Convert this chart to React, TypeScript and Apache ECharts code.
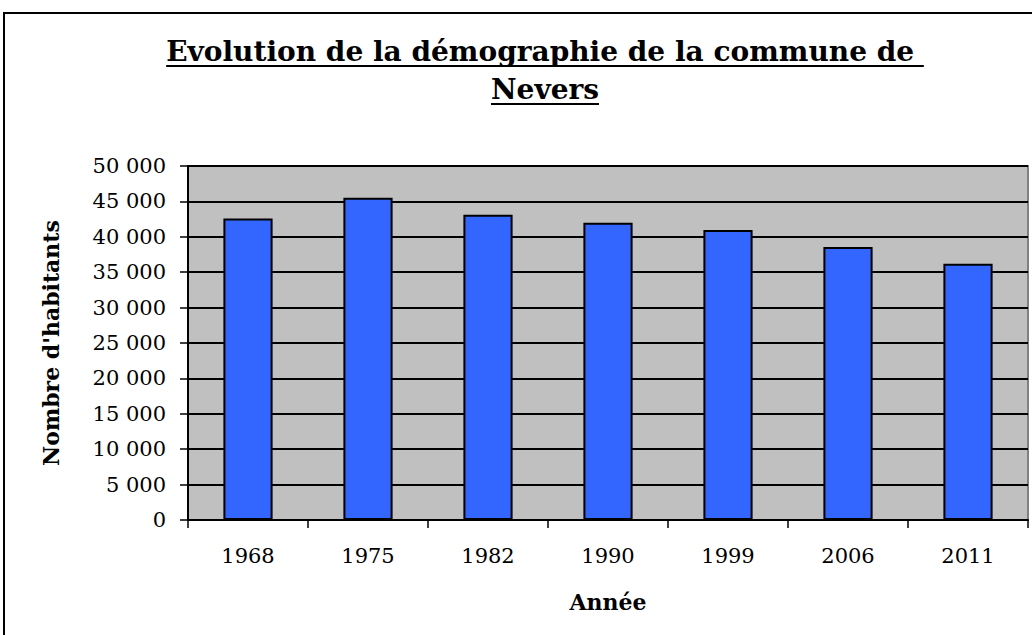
import React, { useEffect, useRef } from "react";
import * as echarts from "echarts";

const years = ["1968", "1975", "1982", "1990", "1999", "2006", "2011"];
const population = [42600, 45500, 43100, 42000, 40950, 38550, 36200];
const titleLines = ["Evolution de la démographie de la commune de ", "Nevers"];
const yAxisTitle = "Nombre d'habitants";
const xAxisTitle = "Année";

const FONT = "'DejaVu Serif', Georgia, serif";

function measure(text: string, font: string): number {
  const c = document.createElement("canvas").getContext("2d");
  if (!c) return text.length * 14;
  c.font = font;
  return c.measureText(text).width;
}

export default function App() {
  const ref = useRef<HTMLDivElement>(null);
  useEffect(() => {
    document.body.style.margin = "0";
    if (!ref.current) return;
    const chart = echarts.init(ref.current, undefined, { renderer: "svg" });
    const titleFont = "bold 28px " + FONT;
    const cx = 545;
    const tys = [51, 89];
    const graphics: any[] = [
      {
        type: "rect",
        shape: { x: 4, y: 13, width: 1100, height: 700 },
        style: { fill: "#fff", stroke: "#000", lineWidth: 2 },
        z: -10,
        silent: true,
      },
    ];
    titleLines.forEach((t, i) => {
      const w = measure(t, titleFont);
      graphics.push({
        type: "text",
        x: cx,
        y: tys[i],
        style: {
          text: t,
          font: titleFont,
          fill: "#000",
          align: "center",
          verticalAlign: "middle",
        },
      });
      graphics.push({
        type: "line",
        shape: { x1: cx - w / 2, y1: tys[i] + 15, x2: cx + w / 2, y2: tys[i] + 15 },
        style: { stroke: "#000", lineWidth: 2 },
      });
    });

    chart.setOption({
      animation: false,
      backgroundColor: "#fff",
      graphic: graphics,
      grid: {
        left: 188,
        top: 166,
        right: 4,
        bottom: 115,
        show: true,
        backgroundColor: "#c0c0c0",
        borderColor: "#808080",
        borderWidth: 2,
      },
      xAxis: {
        type: "category",
        data: years,
        name: xAxisTitle,
        nameLocation: "middle",
        nameGap: 71,
        nameTextStyle: { fontFamily: FONT, fontWeight: "bold", fontSize: 22, color: "#000" },
        axisLine: { lineStyle: { color: "#000", width: 2 } },
        axisTick: { show: true, length: 8, lineStyle: { color: "#000", width: 1.5 } },
        axisLabel: { margin: 25, fontFamily: FONT, fontSize: 21, color: "#000" },
      },
      yAxis: {
        type: "value",
        min: 0,
        max: 50000,
        interval: 5000,
        name: yAxisTitle,
        nameLocation: "middle",
        nameGap: 126,
        nameRotate: 90,
        nameTextStyle: { fontFamily: FONT, fontWeight: "bold", fontSize: 22, color: "#000" },
        axisLine: { show: true, lineStyle: { color: "#000", width: 2 } },
        axisTick: { show: true, length: 8, lineStyle: { color: "#000", width: 1.5 } },
        axisLabel: {
          margin: 22,
          fontFamily: FONT,
          fontSize: 21,
          color: "#000",
          formatter: (v: number) => String(v).replace(/\B(?=(\d{3})+(?!\d))/g, " "),
        },
        splitLine: { show: true, lineStyle: { color: "#000", width: 2 } },
      },
      series: [
        {
          type: "bar",
          data: population,
          barWidth: "41%",
          itemStyle: { color: "#3366ff", borderColor: "#000", borderWidth: 2 },
        },
      ],
    });
    return () => chart.dispose();
  }, []);
  return <div ref={ref} style={{ width: 1032, height: 635 }} />;
}
